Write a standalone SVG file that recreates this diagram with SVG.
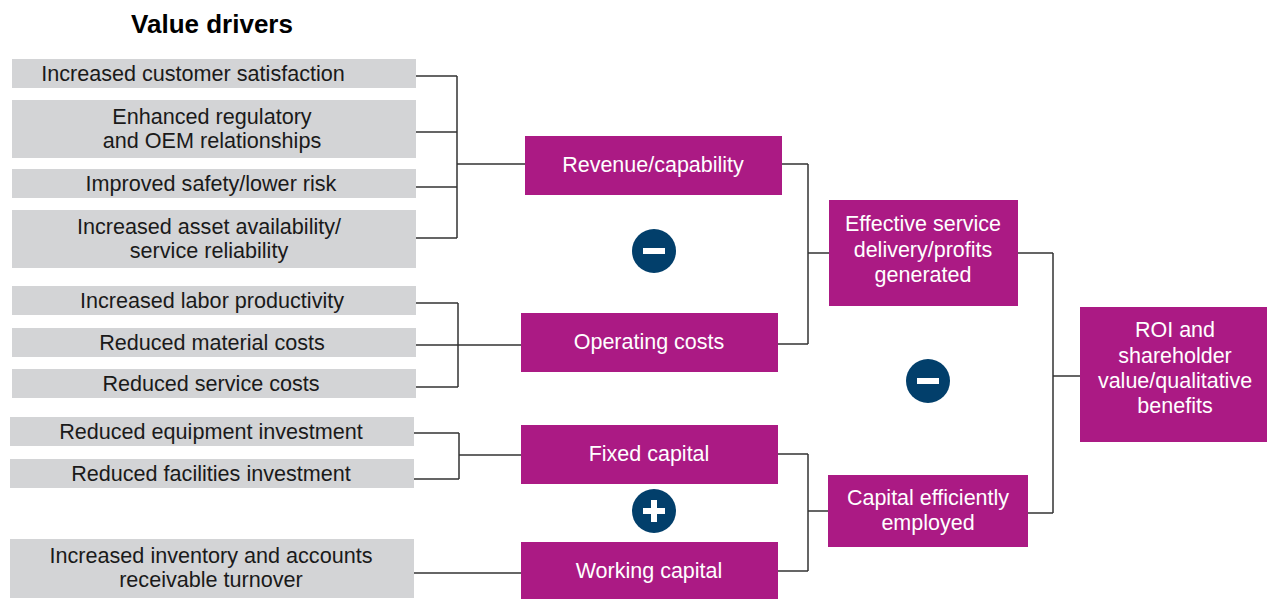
<svg xmlns="http://www.w3.org/2000/svg" width="1267" height="599" viewBox="0 0 1267 599">
<style>
.bg{fill:#ffffff}
.drv{fill:#d3d4d6}
.mag{fill:#ab1a84}
.t{font-family:"Liberation Sans",Arial,Helvetica,sans-serif;font-size:21.6px;fill:#1a1a1a;text-anchor:middle}
.w{font-family:"Liberation Sans",Arial,Helvetica,sans-serif;font-size:21.5px;fill:#ffffff;text-anchor:middle}
.title{font-family:"Liberation Sans",Arial,Helvetica,sans-serif;font-size:26px;font-weight:bold;fill:#000000;text-anchor:middle}
.c{fill:none;stroke:#333333;stroke-width:1.5}
.op{fill:#023f6b}
.sign{fill:#ffffff}
</style>
<rect class="bg" x="0" y="0" width="1267" height="599"/>
<text class="title" x="212" y="33">Value drivers</text>

<g id="connectors">
<path class="c" d="M416 76H457M416 132H457M416 187H457M416 238H457M457 76V238M457 164H525"/>
<path class="c" d="M416 303H458M416 345H458M416 387H458M458 303V387M458 345H521"/>
<path class="c" d="M414 433H459M414 479H459M459 433V479M459 455H521"/>
<path class="c" d="M414 573H521"/>
<path class="c" d="M782 164H808M778 344H808M808 164V344M808 253H829"/>
<path class="c" d="M778 454H808M778 571H808M808 454V571M808 511H828"/>
<path class="c" d="M1018 253H1053M1028 513H1053M1053 253V513M1053 376H1080"/>
</g>

<g id="d1"><rect class="drv" x="12" y="59" width="404" height="29"/><text class="t" x="193" y="81">Increased customer satisfaction</text></g>
<g id="d2"><rect class="drv" x="12" y="100" width="404" height="58"/><text class="t" x="212" y="124">Enhanced regulatory</text><text class="t" x="212" y="148">and OEM relationships</text></g>
<g id="d3"><rect class="drv" x="12" y="169" width="404" height="29"/><text class="t" x="211" y="191">Improved safety/lower risk</text></g>
<g id="d4"><rect class="drv" x="12" y="210" width="404" height="58"/><text class="t" x="209" y="234">Increased asset availability/</text><text class="t" x="209" y="258">service reliability</text></g>
<g id="d5"><rect class="drv" x="12" y="286" width="404" height="29"/><text class="t" x="212" y="308">Increased labor productivity</text></g>
<g id="d6"><rect class="drv" x="12" y="328" width="404" height="29"/><text class="t" x="212" y="350">Reduced material costs</text></g>
<g id="d7"><rect class="drv" x="12" y="369" width="404" height="29"/><text class="t" x="211" y="391">Reduced service costs</text></g>
<g id="d8"><rect class="drv" x="10" y="417" width="404" height="29"/><text class="t" x="211" y="439">Reduced equipment investment</text></g>
<g id="d9"><rect class="drv" x="10" y="459" width="404" height="29"/><text class="t" x="211" y="481">Reduced facilities investment</text></g>
<g id="d10"><rect class="drv" x="10" y="539" width="404" height="59"/><text class="t" x="211" y="563">Increased inventory and accounts</text><text class="t" x="211" y="587">receivable turnover</text></g>

<g id="revenue"><rect class="mag" x="525" y="136" width="257" height="59"/><text class="w" x="653" y="172">Revenue/capability</text></g>
<g id="opcosts"><rect class="mag" x="521" y="313" width="257" height="59"/><text class="w" x="649" y="349">Operating costs</text></g>
<g id="fixed"><rect class="mag" x="521" y="425" width="257" height="59"/><text class="w" x="649" y="461">Fixed capital</text></g>
<g id="working"><rect class="mag" x="521" y="542" width="257" height="57"/><text class="w" x="649" y="578">Working capital</text></g>
<g id="effective"><rect class="mag" x="829" y="200" width="189" height="106"/><text class="w" x="923" y="231">Effective service</text><text class="w" x="923" y="257">delivery/profits</text><text class="w" x="923" y="282">generated</text></g>
<g id="capital"><rect class="mag" x="828" y="475" width="200" height="72"/><text class="w" x="928" y="505">Capital efficiently</text><text class="w" x="928" y="530">employed</text></g>
<g id="roi"><rect class="mag" x="1080" y="307" width="187" height="135"/><text class="w" x="1175" y="337">ROI and</text><text class="w" x="1175" y="363">shareholder</text><text class="w" x="1175" y="388">value/qualitative</text><text class="w" x="1175" y="413">benefits</text></g>

<g id="minus1"><circle class="op" cx="654" cy="251" r="22"/><rect class="sign" x="643" y="248" width="22" height="6"/></g>
<g id="minus2"><circle class="op" cx="928" cy="381" r="22"/><rect class="sign" x="917" y="378" width="22" height="6"/></g>
<g id="plus"><circle class="op" cx="654" cy="511" r="22"/><rect class="sign" x="643" y="508" width="22" height="6"/><rect class="sign" x="651" y="500" width="6" height="22"/></g>
</svg>
